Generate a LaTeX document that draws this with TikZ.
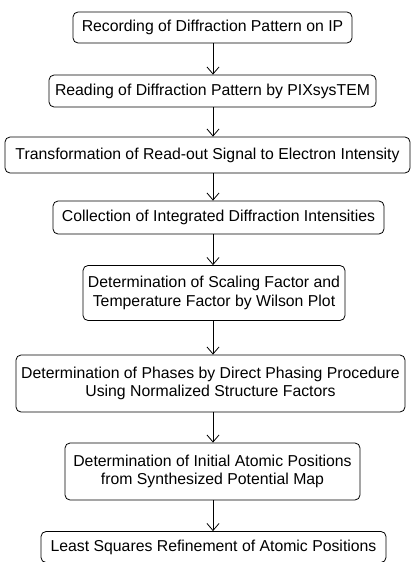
\documentclass[tikz,border=0pt]{standalone}
\usepackage{fontspec}
\setmainfont{Liberation Sans}
\usetikzlibrary{arrows.meta,positioning}

\begin{document}
\begin{tikzpicture}[x=1pt,y=-1pt,
    stepbox/.style={draw,rounded corners=5pt,align=center,inner sep=0pt,
      font=\fontsize{15.8}{18.5}\selectfont,line width=0.8pt},
    flow/.style={-{Straight Barb[length=7pt,width=12pt]},line width=0.8pt}]
    \useasboundingbox (0,0) rectangle (416,562);
    \coordinate (axis) at (213,0);
    % steps of the procedure
    \node [stepbox,minimum width=279pt,minimum height=31pt] (rec) at (212.5,27.5) {Recording of Diffraction Pattern on IP};
    \node [stepbox,minimum width=327pt,minimum height=32pt] (read) at (212.5,91) {Reading of Diffraction Pattern by PIXsysTEM};
    \node [stepbox,minimum width=405pt,minimum height=36pt] (trans) at (207.5,155) {Transformation of Read-out Signal to Electron Intensity};
    \node [stepbox,minimum width=331pt,minimum height=33pt] (coll) at (218.5,217.5) {Collection of Integrated Diffraction Intensities};
    \node [stepbox,minimum width=262pt,minimum height=55pt] (wil) at (214,293) {Determination of Scaling Factor and\\Temperature Factor by Wilson Plot};
    \node [stepbox,minimum width=389pt,minimum height=57pt] (phase) at (210.5,383.5) {Determination of Phases by Direct Phasing Procedure\\Using Normalized Structure Factors};
    \node [stepbox,minimum width=295pt,minimum height=57pt] (atom) at (212.5,471.5) {Determination of Initial Atomic Positions\\from Synthesized Potential Map};
    \node [stepbox,minimum width=345pt,minimum height=31pt] (lsq) at (213.5,547) {Least Squares Refinement of Atomic Positions};
    % arrows
    \draw [flow] (rec.south -| axis) -- (read.north -| axis);
    \draw [flow] (read.south -| axis) -- (trans.north -| axis);
    \draw [flow] (trans.south -| axis) -- (coll.north -| axis);
    \draw [flow] (coll.south -| axis) -- (wil.north -| axis);
    \draw [flow] (wil.south -| axis) -- (phase.north -| axis);
    \draw [flow] (phase.south -| axis) -- (atom.north -| axis);
    \draw [flow] (atom.south -| axis) -- (lsq.north -| axis);
\end{tikzpicture}
\end{document}
